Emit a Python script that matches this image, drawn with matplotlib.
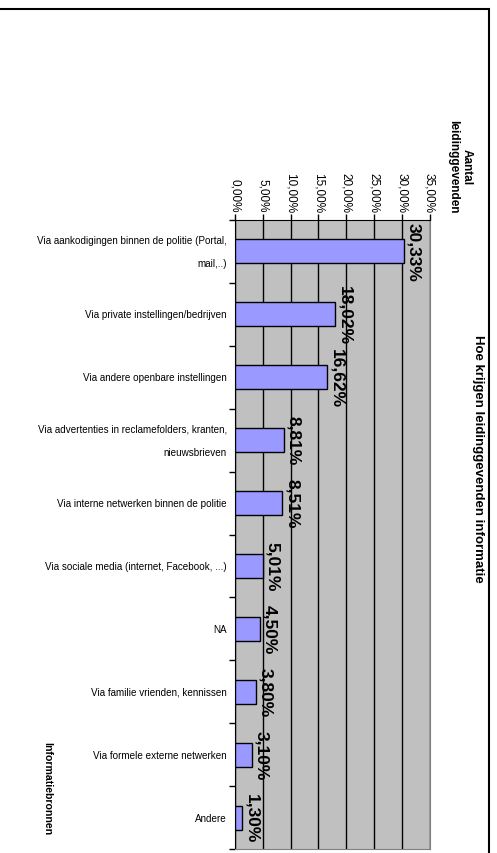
import matplotlib.pyplot as plt
from matplotlib.patches import Rectangle
import numpy as np

categories = [
    "Via aankodigingen binnen de politie (Portal,\nmail,..)",
    "Via private instellingen/bedrijven",
    "Via andere openbare instellingen",
    "Via advertenties in reclamefolders, kranten,\nnieuwsbrieven",
    "Via interne netwerken binnen de politie",
    "Via sociale media (internet, Facebook, ...)",
    "NA",
    "Via familie vrienden, kennissen",
    "Via formele externe netwerken",
    "Andere",
]
values = [30.33, 18.02, 16.62, 8.81, 8.51, 5.01, 4.50, 3.80, 3.10, 1.30]
value_ticks = [0, 5, 10, 15, 20, 25, 30, 35]

plt.rcParams['font.family'] = ['Liberation Sans', 'DejaVu Sans']

fig = plt.figure(figsize=(4.97, 8.54), dpi=100)
ax = fig.add_axes([235 / 497, 4 / 854, 194.5 / 497, 629 / 854])

pos = np.arange(len(categories))
ax.set_facecolor('#C0C0C0')
ax.barh(pos, values, height=0.38, color='#9999FF', edgecolor='black', linewidth=1, zorder=3)

ax.set_xlim(0, 35)
ax.set_ylim(len(categories) - 0.5, -0.5)

# value axis on top, labels turned like the rotated picture
ax.xaxis.tick_top()
ax.set_xticks(value_ticks)
ax.set_xticklabels([("%.2f%%" % t).replace('.', ',') for t in value_ticks],
                   rotation=-90, fontsize=8.5, va='bottom', ha='center')
ax.tick_params(axis='x', direction='out', length=4, pad=2, width=1)
ax.grid(axis='x', color='black', linewidth=1, zorder=1)

# category axis on the left: ticks between categories, labels at centres
ax.set_yticks(pos)
ax.set_yticklabels(categories, fontsize=7.1, linespacing=2.6, ha='right', va='center')
ax.tick_params(axis='y', which='major', length=0, pad=6)
ax.set_yticks(np.arange(len(categories) + 1) - 0.5, minor=True)
ax.tick_params(axis='y', which='minor', direction='out', length=4, width=1)

for s in ['right', 'bottom']:
    ax.spines[s].set_color('#808080')
for s in ['left', 'top']:
    ax.spines[s].set_color('black')

for p, v in zip(pos, values):
    ax.text(v + 0.4, p, ("%.2f%%" % v).replace('.', ','), rotation=-90,
            ha='left', va='center', fontsize=12.5, fontweight='bold', zorder=4)

fig.text(478 / 497, 1 - 459 / 854, "Hoe krijgen leidinggevenden informatie",
         rotation=-90, ha='center', va='center', fontsize=9.5, fontweight='bold')
fig.text(460 / 497, 1 - 167 / 854, "Aantal\nleidinggevenden",
         rotation=-90, ha='center', va='center', fontsize=8.5, fontweight='bold',
         multialignment='center')
fig.text(47 / 497, 1 - 742 / 854, "Informatiebronnen",
         rotation=-90, ha='center', va='top', fontsize=7.6, fontweight='bold')

fig.patches.append(Rectangle((-0.02, -0.02), 489 / 497 + 0.02, 1 - 10 / 854 + 0.02,
                             transform=fig.transFigure, fill=False,
                             edgecolor='black', linewidth=1.5))

fig.savefig('out.png', dpi=100)
